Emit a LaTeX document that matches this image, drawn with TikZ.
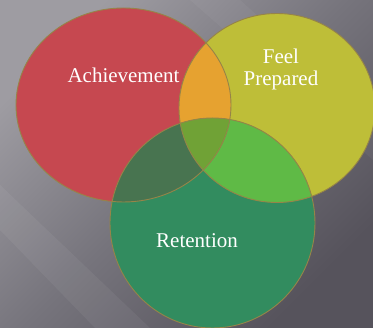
\documentclass[tikz,border=0pt]{standalone}
\usepackage{fontspec}
\setmainfont{Liberation Serif}
\definecolor{bgL}{RGB}{158,156,162}
\definecolor{bgM}{RGB}{118,116,124}
\definecolor{bgD}{RGB}{86,83,92}
\definecolor{cRed}{RGB}{198,72,80}
\definecolor{cYel}{RGB}{190,190,56}
\definecolor{cGrn}{RGB}{50,140,95}
\definecolor{cRY}{RGB}{230,162,48}
\definecolor{cYG}{RGB}{95,186,70}
\definecolor{cRG}{RGB}{72,116,80}
\definecolor{cRYG}{RGB}{112,162,54}
\definecolor{cEdge}{RGB}{150,132,72}
\tikzset{
  vlabel/.style={text=white, font=\fontsize{21}{23}\selectfont, align=center, inner sep=0pt},
  vedge/.style={draw=cEdge, line width=0.9pt}
}
\def\redE{(123.5,105) ellipse [x radius=107.5, y radius=97]}
\def\yelE{(277,108) ellipse [x radius=98, y radius=94.5]}
\def\grnE{(212.5,223) ellipse [x radius=102.5, y radius=105]}
\begin{document}
\begin{tikzpicture}[x=1pt,y=-1pt]
\useasboundingbox (0,0) rectangle (373,328);
\shade[top color=bgL, bottom color=bgD, middle color=bgM, shading angle=45] (0,0) rectangle (373,328);
\fill[white, opacity=0.05] (0,185) -- (0,230) -- (95,328) -- (150,328) -- cycle;
\fill[white, opacity=0.04] (190,0) -- (240,0) -- (373,120) -- (373,160) -- cycle;
% base fills
\fill[cRed] \redE;
\fill[cYel] \yelE;
\fill[cGrn] \grnE;
% pairwise overlaps
\begin{scope}\clip \redE; \fill[cRY] \yelE; \end{scope}
\begin{scope}\clip \yelE; \fill[cYG] \grnE; \end{scope}
\begin{scope}\clip \redE; \fill[cRG] \grnE; \end{scope}
\begin{scope}\clip \redE; \clip \yelE; \fill[cRYG] \grnE; \end{scope}
% outlines
\draw[vedge] \redE;
\draw[vedge] \yelE;
\draw[vedge] \grnE;
% labels
\node[vlabel] (ach) at (123.5,75) {Achievement};
\node[vlabel, font=\fontsize{21}{22}\selectfont] (feel) at (281,69) {Feel\\Prepared};
\node[vlabel] (ret) at (197,241) {Retention};
\end{tikzpicture}
\end{document}
